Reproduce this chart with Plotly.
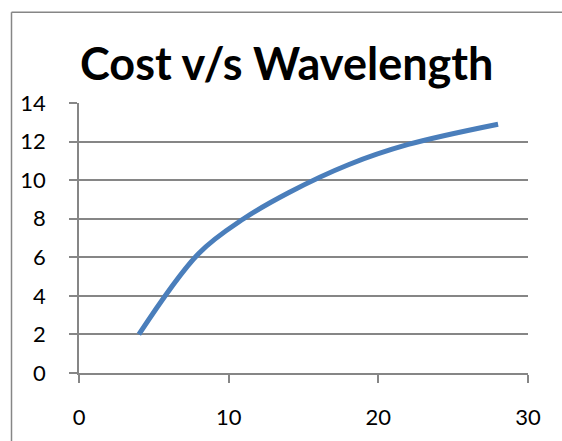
import plotly.graph_objects as go

# Wavelength (x) against cost (y)
wavelength = [4, 8, 11, 14, 18, 22, 28]
cost = [2.0, 6.2, 8.0, 9.35, 10.8, 11.85, 12.9]

x_ticks = [0, 10, 20, 30]
y_ticks = [0, 2, 4, 6, 8, 10, 12, 14]

title_text = "Cost v/s Wavelength"

grid_color = "#868686"
line_color = "#4A7EBB"
font_family = "Lato, 'Open Sans', sans-serif"

fig = go.Figure()
fig.add_trace(go.Scatter(
    x=wavelength,
    y=cost,
    mode="lines",
    line=dict(color=line_color, width=5, shape="spline", smoothing=1.0),
    showlegend=False,
    hoverinfo="x+y",
))

fig.update_layout(
    width=562,
    height=441,
    margin=dict(l=79, r=34, t=103, b=68, pad=0),
    paper_bgcolor="white",
    plot_bgcolor="white",
    font=dict(family=font_family, size=22, color="#000000"),
    xaxis=dict(
        range=[0, 30],
        tickvals=x_ticks,
        ticktext=[str(v) for v in x_ticks],
        showgrid=False,
        zeroline=False,
        showline=True,
        linecolor=grid_color,
        linewidth=1.5,
        ticks="outside",
        ticklen=8,
        tickwidth=1.5,
        tickcolor=grid_color,
        tickfont=dict(size=22),
        ticklabelstandoff=16,
    ),
    yaxis=dict(
        range=[0, 14],
        tickvals=y_ticks,
        ticktext=[str(v) for v in y_ticks],
        showgrid=True,
        gridcolor=grid_color,
        gridwidth=1.5,
        zeroline=False,
        showline=True,
        linecolor=grid_color,
        linewidth=1.5,
        ticks="outside",
        ticklen=8,
        tickwidth=1.5,
        tickcolor=grid_color,
        tickfont=dict(size=22),
        ticklabelstandoff=19,
    ),
    annotations=[dict(
        text="<b>" + title_text + "</b>",
        xref="paper", yref="paper",
        x=(286.5 - 79) / 449, y=(372.7 - 63) / 270,
        xanchor="center", yanchor="middle",
        showarrow=False,
        font=dict(family=font_family, size=45, color="#000000"),
    )],
    shapes=[
        # chart frame: left and top edges
        dict(type="line", xref="paper", yref="paper",
             x0=(11.5 - 79) / 449, x1=(11.5 - 79) / 449,
             y0=(372.7 - 12) / 270, y1=(372.7 - 460) / 270,
             line=dict(color="#868686", width=1.5)),
        dict(type="line", xref="paper", yref="paper",
             x0=(11.5 - 79) / 449, x1=(570 - 79) / 449,
             y0=(372.7 - 12) / 270, y1=(372.7 - 12) / 270,
             line=dict(color="#868686", width=1.5)),
    ],
)

fig.write_html("out.html")
